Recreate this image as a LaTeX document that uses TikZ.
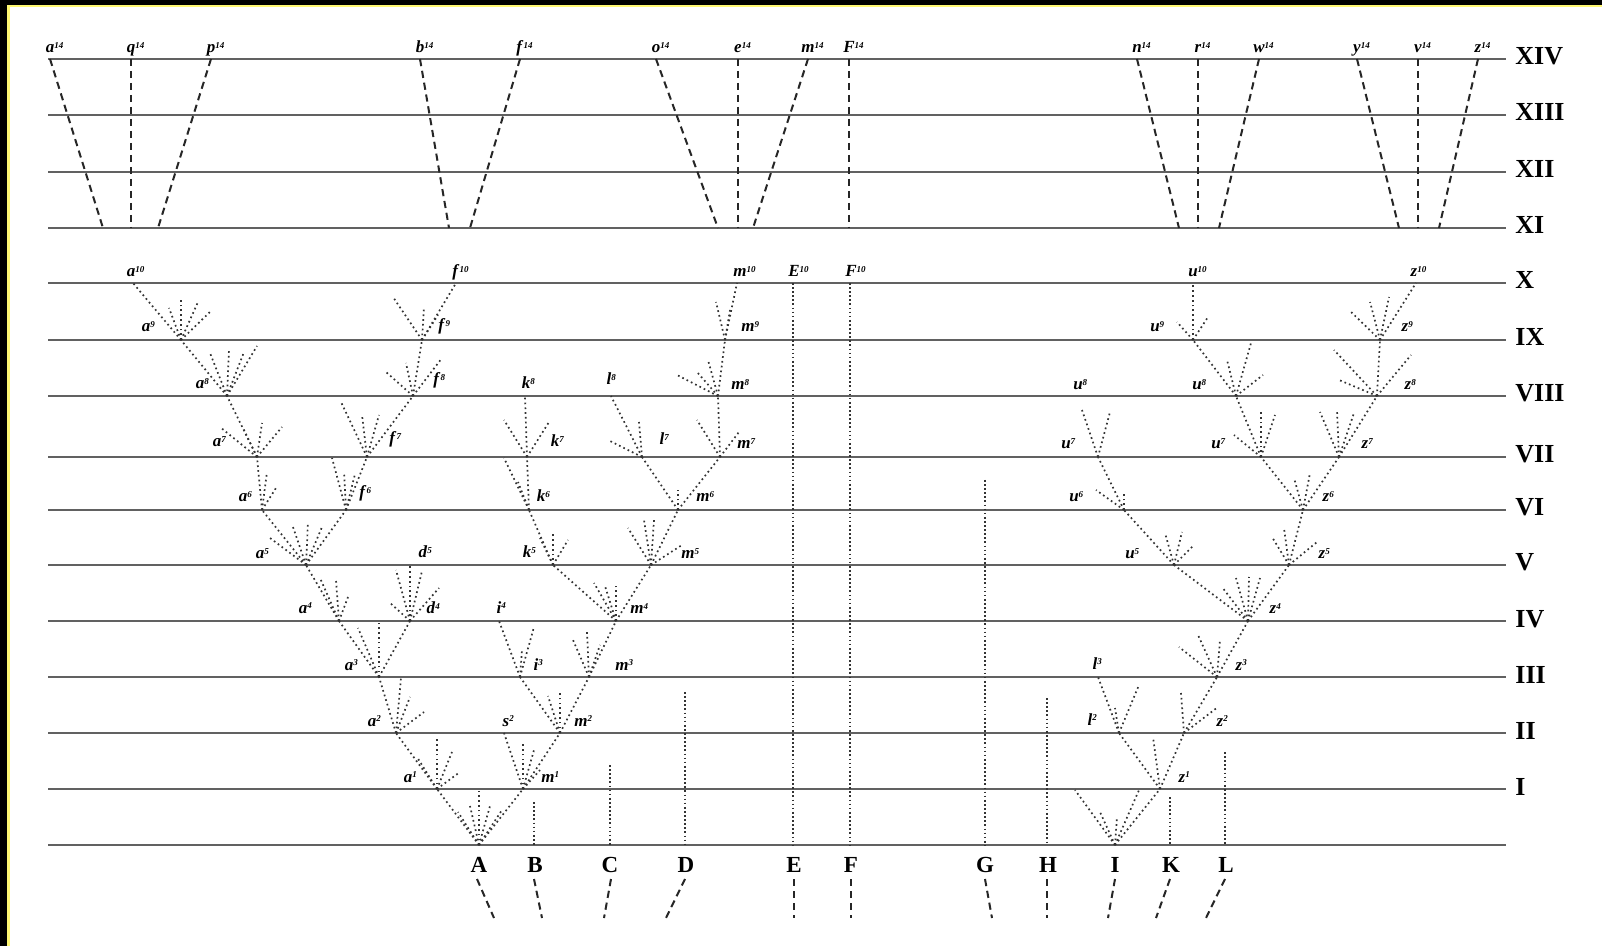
\documentclass[tikz,border=0pt]{standalone}
\usepackage{fontspec}
\setmainfont{Liberation Serif}
\newcommand{\supl}[1]{\rlap{\raisebox{0.6ex}{\fontsize{4.5}{5}\selectfont\bfseries\itshape #1}}}
\newcommand{\fan}[2]{\foreach \p in {#2} \draw[dotln] (#1) -- \p;}
\newcommand{\lbl}[5]{\node[lab] (#1) at (#2,#3) {\textbf{\textit{#4}}\supl{#5}};}
\begin{document}
\begin{tikzpicture}[x=0.5pt,y=-0.5pt]
\tikzset{
  hline/.style={draw=black!62, line width=0.95pt},
  dashln/.style={draw=black!85, line width=1.0pt, dash pattern=on 3.6pt off 2.4pt},
  dotln/.style={draw=black!80, line width=0.85pt, dash pattern=on 0.85pt off 1.55pt},
  vdot/.style={draw=black!80, line width=0.85pt, dash pattern=on 0.85pt off 1.2pt},
  lab/.style={anchor=base, inner sep=0pt, font=\fontsize{8.5}{9}\selectfont},
  roman/.style={anchor=base west, inner sep=0pt, font=\fontsize{13}{14}\selectfont\bfseries},
  bottomlab/.style={anchor=base, inner sep=0pt, font=\fontsize{11.5}{12}\selectfont\bfseries}
}
% frame
\fill[black] (0,0) rectangle (1602,946);
\fill[yellow!55] (7,5) rectangle (1602,946);
\fill[white] (10,7) rectangle (1602,946);
\useasboundingbox (0,0) rectangle (1602,946);

% horizontal lines and roman numerals
\foreach \yy/\rr in {59/XIV,115/XIII,172/XII,228/XI,283/X,340/IX,396/VIII,457/VII,510/VI,565/V,621/IV,677/III,733/II,789/I}{
  \draw[hline] (48,\yy) -- (1506,\yy);
  \node[roman] (R\rr) at (1515,\yy+6) {\rr};
}
\draw[hline] (48,845) -- (1506,845);

% ---------- top section (XI to XIV), dashed ----------
\foreach \nm/\tx/\bx/\sx in {a/50/103/a,q/131/131/q,p/211/158/p,b/420/449/b,f/520/470/f,o/656/718/o,e/738/738/e,m/808/753/m,F/849/849/F,n/1137/1179/n,r/1198/1198/r,w/1259/1219/w,y/1357/1399/y,v/1418/1418/v,z/1478/1439/z}{
  \coordinate (T\nm) at (\tx,59);
  \coordinate (B\nm) at (\bx,228);
  \draw[dashln] (T\nm) -- (B\nm);
  \node[lab] (L\nm14) at (\tx,53) {\textbf{\textit{\sx}}\supl{14}};
}

% ---------- lower section coordinates ----------
\coordinate (A) at (479,845);
\coordinate (a1) at (437,789);
\coordinate (m1) at (523,789);
\coordinate (a2) at (396,733);
\coordinate (s2) at (504,733);
\coordinate (m2) at (560,733);
\coordinate (a3) at (379,677);
\coordinate (i3) at (520,677);
\coordinate (m3) at (589,677);
\coordinate (a4) at (339,621);
\coordinate (d4) at (410,621);
\coordinate (i4) at (499,621);
\coordinate (m4) at (616,621);
\coordinate (a5) at (306,565);
\coordinate (d5) at (410,565);
\coordinate (k5) at (553,565);
\coordinate (m5) at (651,565);
\coordinate (a6) at (262,510);
\coordinate (f6) at (346,510);
\coordinate (k6) at (529,510);
\coordinate (m6) at (678,510);
\coordinate (a7) at (257,457);
\coordinate (f7) at (367,457);
\coordinate (k7) at (527,457);
\coordinate (l7) at (642,457);
\coordinate (m7) at (720,457);
\coordinate (a8) at (227,396);
\coordinate (f8) at (413,396);
\coordinate (k8) at (525,396);
\coordinate (l8) at (611,396);
\coordinate (m8) at (718,396);
\coordinate (a9) at (181,340);
\coordinate (f9) at (422,340);
\coordinate (m9) at (725,340);
\coordinate (a10) at (133,283);
\coordinate (f10) at (456,283);
\coordinate (m10) at (737,283);

\coordinate (I) at (1115,845);
\coordinate (z1) at (1160,789);
\coordinate (l2) at (1119,733);
\coordinate (z2) at (1184,733);
\coordinate (l3) at (1098,677);
\coordinate (z3) at (1217,677);
\coordinate (z4) at (1248,621);
\coordinate (u5) at (1174,565);
\coordinate (z5) at (1289,565);
\coordinate (u6) at (1124,510);
\coordinate (z6) at (1303,510);
\coordinate (u7a) at (1098,457);
\coordinate (u7b) at (1261,457);
\coordinate (z7) at (1339,457);
\coordinate (u8) at (1236,396);
\coordinate (z8) at (1377,396);
\coordinate (u9) at (1193,340);
\coordinate (z9) at (1380,340);
\coordinate (u10) at (1193,283);
\coordinate (z10) at (1416,283);

% ---------- fans: left branch ----------
\fan{A}{(a1),(458,812),(470,806),(479,790),(490,806),(502,810),(m1)}
\fan{a1}{(a2),(417,757),(437,737),(452,752),(460,772)}
\fan{a2}{(a3),(401,678),(410,697),(424,712)}
\fan{a3}{(a4),(d4),(379,622),(358,628)}
\fan{a4}{(a5),(320,578),(336,580),(348,597)}
\fan{d4}{(d5),(389,602),(396,570),(422,571),(439,588)}
\fan{a5}{(a6),(f6),(270,538),(293,527),(308,522),(322,527)}
\fan{a6}{(a7),(267,472),(276,488)}
\fan{f6}{(f7),(332,458),(344,472),(355,474)}
\fan{a7}{(a8),(220,427),(243,428),(262,423),(282,427)}
\fan{f7}{(f8),(341,402),(362,415),(379,415)}
\fan{a8}{(a9),(210,353),(229,349),(244,352),(257,346)}
\fan{f8}{(f9),(386,372),(406,363),(442,358)}
\fan{a9}{(a10),(169,308),(181,298),(198,302),(212,310)}
\fan{f9}{(f10),(393,297),(424,307),(438,315)}

% ---------- fans: middle branch ----------
\fan{m1}{(s2),(m2),(523,743),(534,750),(540,770)}
\fan{m2}{(i3),(m3),(548,696),(560,692)}
\fan{i3}{(i4),(534,627),(522,650)}
\fan{m3}{(m4),(573,640),(587,632),(600,645)}
\fan{m4}{(k5),(m5),(594,583),(605,586),(616,583)}
\fan{k5}{(k6),(540,538),(553,533),(568,540)}
\fan{m5}{(m6),(628,528),(644,520),(654,520),(682,545)}
\fan{k6}{(k7),(504,458),(518,482)}
\fan{k7}{(k8),(504,420),(549,422)}
\fan{m6}{(l7),(m7),(678,490)}
\fan{l7}{(l8),(608,440),(639,422)}
\fan{m7}{(m8),(697,420),(739,432)}
\fan{m8}{(m9),(677,375),(697,372),(708,360)}
\fan{m9}{(m10),(716,302),(730,310)}

% ---------- fans: right branch ----------
\fan{I}{(1075,790),(1100,812),(1117,817),(1139,790),(z1)}
\fan{z1}{(l2),(1153,737),(z2)}
\fan{l2}{(l3),(1115,708),(1139,685)}
\fan{z2}{(z3),(1181,693),(1218,707)}
\fan{z3}{(z4),(1179,647),(1198,635),(1220,640)}
\fan{z4}{(u5),(z5),(1222,587),(1236,578),(1249,577),(1260,578)}
\fan{u5}{(u6),(1165,533),(1182,532),(1194,545)}
\fan{z5}{(z6),(1272,537),(1284,528),(1317,542)}
\fan{u6}{(u7a),(1096,490),(1124,493)}
\fan{z6}{(u7b),(z7),(1294,478),(1310,473)}
\fan{u7a}{(1082,410),(1110,412)}
\fan{u7b}{(u8),(1234,435),(1261,410),(1275,415)}
\fan{z7}{(z8),(1320,412),(1337,410),(1354,413)}
\fan{u8}{(u9),(1227,360),(1251,343),(1263,375)}
\fan{z8}{(z9),(1334,350),(1339,380),(1411,355)}
\fan{u9}{(u10),(1177,322),(1208,317)}
\fan{z9}{(z10),(1349,310),(1370,302),(1389,297)}

% ---------- vertical dotted lines ----------
\foreach \nm/\xx/\yt in {B/534/802,C/610/765,D/685/692,E/793/283,F/850/283,G/985/480,H/1047/698,K/1170/797,L/1225/752}{
  \coordinate (V\nm t) at (\xx,\yt);
  \coordinate (V\nm b) at (\xx,845);
  \draw[vdot] (V\nm t) -- (V\nm b);
}

% ---------- bottom labels and dashes ----------
\foreach \nm/\xx/\xa/\xb in {A/479/477/494,B/535/534/542,C/610/611/604,D/686/685/666,E/794/794/794,F/851/851/851,G/985/985/992,H/1048/1047/1047,I/1115/1115/1108,K/1171/1170/1156,L/1226/1225/1206}{
  \node[bottomlab] (N\nm) at (\xx,872) {\nm};
  \coordinate (D\nm t) at (\xa,879);
  \coordinate (D\nm b) at (\xb,918);
  \draw[dashln] (D\nm t) -- (D\nm b);
}

% ---------- italic labels ----------
% row X
\lbl{ta10}{131}{277}{a}{10}
\lbl{tf10}{456}{277}{f}{10}
\lbl{tm10}{740}{277}{m}{10}
\lbl{tE10}{794}{277}{E}{10}
\lbl{tF10}{851}{277}{F}{10}
\lbl{tu10}{1193}{277}{u}{10}
\lbl{tz10}{1414}{277}{z}{10}
% row IX
\lbl{ta9}{146}{332}{a}{9}
\lbl{tf9}{442}{331}{f}{9}
\lbl{tm9}{748}{332}{m}{9}
\lbl{tu9}{1155}{332}{u}{9}
\lbl{tz9}{1405}{332}{z}{9}
% row VIII
\lbl{ta8}{200}{389}{a}{8}
\lbl{tf8}{437}{385}{f}{8}
\lbl{tk8}{526}{389}{k}{8}
\lbl{tl8}{609}{385}{l}{8}
\lbl{tm8}{738}{390}{m}{8}
\lbl{tu8a}{1078}{390}{u}{8}
\lbl{tu8b}{1197}{390}{u}{8}
\lbl{tz8}{1408}{390}{z}{8}
% row VII
\lbl{ta7}{217}{447}{a}{7}
\lbl{tf7}{393}{444}{f}{7}
\lbl{tk7}{555}{447}{k}{7}
\lbl{tl7}{662}{445}{l}{7}
\lbl{tm7}{744}{449}{m}{7}
\lbl{tu7a}{1066}{449}{u}{7}
\lbl{tu7b}{1216}{449}{u}{7}
\lbl{tz7}{1365}{449}{z}{7}
% row VI
\lbl{ta6}{243}{502}{a}{6}
\lbl{tf6}{363}{498}{f}{6}
\lbl{tk6}{541}{502}{k}{6}
\lbl{tm6}{703}{502}{m}{6}
\lbl{tu6}{1074}{502}{u}{6}
\lbl{tz6}{1326}{502}{z}{6}
% row V
\lbl{ta5}{260}{559}{a}{5}
\lbl{td5}{423}{558}{d}{5}
\lbl{tk5}{527}{558}{k}{5}
\lbl{tm5}{688}{559}{m}{5}
\lbl{tu5}{1130}{559}{u}{5}
\lbl{tz5}{1322}{559}{z}{5}
% row IV
\lbl{ta4}{303}{613}{a}{4}
\lbl{td4}{431}{614}{d}{4}
\lbl{ti4}{499}{613}{i}{4}
\lbl{tm4}{637}{614}{m}{4}
\lbl{tz4}{1273}{614}{z}{4}
% row III
\lbl{ta3}{349}{670}{a}{3}
\lbl{ti3}{536}{670}{i}{3}
\lbl{tm3}{622}{670}{m}{3}
\lbl{tl3}{1095}{669}{l}{3}
\lbl{tz3}{1239}{670}{z}{3}
% row II
\lbl{ta2}{372}{726}{a}{2}
\lbl{ts2}{506}{726}{s}{2}
\lbl{tm2}{581}{726}{m}{2}
\lbl{tl2}{1090}{725}{l}{2}
\lbl{tz2}{1220}{726}{z}{2}
% row I
\lbl{ta1}{408}{782}{a}{1}
\lbl{tm1}{548}{782}{m}{1}
\lbl{tz1}{1182}{782}{z}{1}
\end{tikzpicture}
\end{document}
